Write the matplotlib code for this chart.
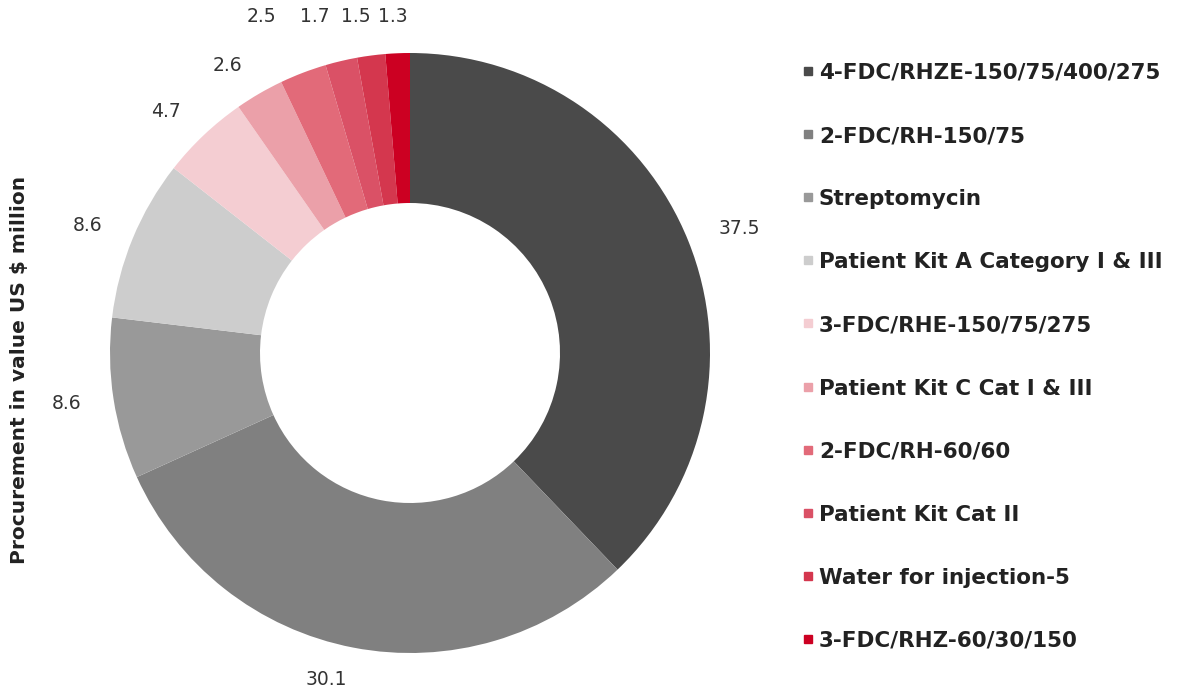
import matplotlib
matplotlib.use("Agg")
import matplotlib.pyplot as plt

plt.rcParams['font.family'] = ['DejaVu Sans']

items = ["4-FDC/RHZE-150/75/400/275", "2-FDC/RH-150/75", "Streptomycin",
         "Patient Kit A Category I & III", "3-FDC/RHE-150/75/275",
         "Patient Kit C Cat I & III", "2-FDC/RH-60/60", "Patient Kit Cat II",
         "Water for injection-5", "3-FDC/RHZ-60/30/150"]
values = [37.5, 30.1, 8.6, 8.6, 4.7, 2.6, 2.5, 1.7, 1.5, 1.3]
colors = ["#4a4a4a", "#808080", "#999999", "#cdcdcd", "#f4cdd2",
          "#eba0a9", "#e26a79", "#da5166", "#d4374e", "#cc0022"]

fig = plt.figure(figsize=(11.8, 7), dpi=100)
ax = fig.add_axes([0, 0, 820 / 1180, 1])

wedges, texts = ax.pie(values, labels=[str(v) for v in values], colors=colors,
                       startangle=90, counterclock=False, labeldistance=1.11,
                       wedgeprops=dict(width=0.5, linewidth=0),
                       textprops=dict(fontsize=13.5, color="#333333"))
# small slices at the top: labels sit on one line above the ring
for t in texts[6:]:
    x, y = t.get_position()
    t.set_position((x * 1.25, 1.12))
    t.set_ha('center')
ax.set_xlim(-410 / 300, 410 / 300)
ax.set_ylim(-347 / 300, 353 / 300)
ax.set_aspect('auto')
ax.axis('off')

fig.text(20 / 1180, 1 - 370 / 700, "Procurement in value US $ million", rotation=90,
         ha='center', va='center', fontsize=14.5, fontweight='bold', color="#222222")

# legend drawn by hand, one row every 63 px
for i, (name, c) in enumerate(zip(items, colors)):
    y = 1 - (73 + i * 63.1) / 700
    fig.patches.append(plt.Rectangle((804 / 1180, y - 2 / 700), 8 / 1180, 8 / 700,
                                     transform=fig.transFigure, color=c))
    fig.text(819 / 1180, y, name, ha='left', va='center', fontsize=15.5,
             fontweight='bold', color="#222222")

fig.savefig("out.png", dpi=100)
